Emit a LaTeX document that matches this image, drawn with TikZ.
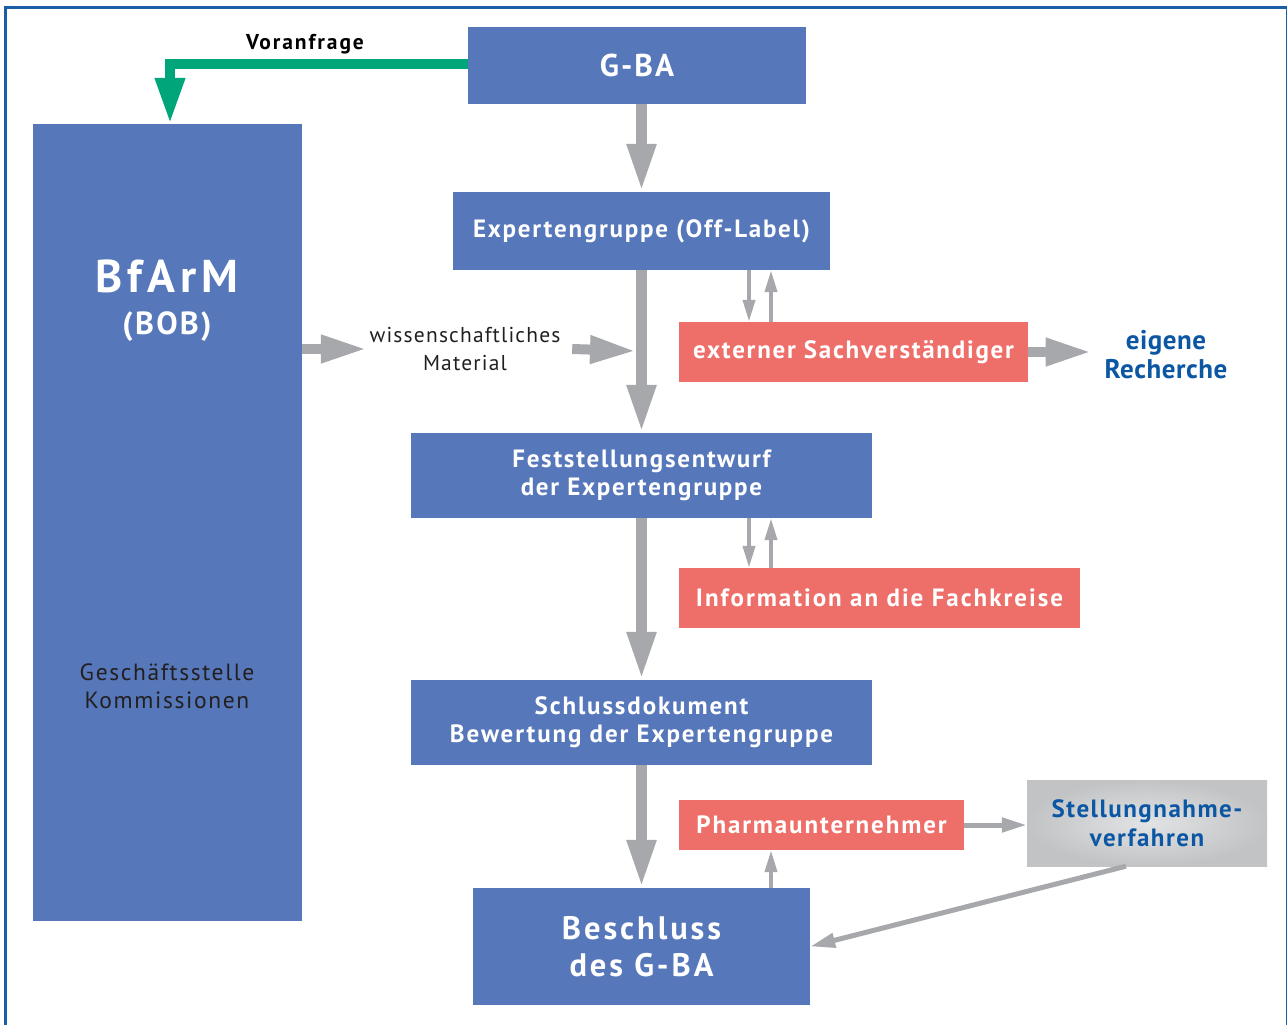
\documentclass[tikz,border=0pt]{standalone}
\usepackage{fontspec}
\setmainfont{PT Sans}
\usetikzlibrary{arrows.meta}
\definecolor{boxblue}{HTML}{5677BA}
\definecolor{boxred}{HTML}{EE6F69}
\definecolor{arrgray}{HTML}{A7A8AC}
\definecolor{vgreen}{HTML}{00A67A}
\definecolor{frameblue}{HTML}{1A5EA8}
\definecolor{txtblue}{HTML}{0B57A3}
\definecolor{txtdark}{HTML}{231F20}
\definecolor{stinner}{HTML}{E2E3E5}
\definecolor{stouter}{HTML}{C2C3C5}
\newcommand{\fsz}[3]{\fontsize{#1}{#2}\selectfont\addfontfeature{LetterSpace=#3}}
\begin{document}
\begin{tikzpicture}[x=1pt,y=-1pt,
  bluebox/.style={fill=boxblue,text=white,inner sep=0pt,align=center,
    font=\fsz{25}{28}{7}\bfseries},
  redbox/.style={fill=boxred,text=white,inner sep=0pt,align=center,
    font=\fsz{25}{28}{7}\bfseries},
  bigarrow/.style={draw=arrgray,line width=11pt,-{Triangle[width=27pt,length=48pt]}},
  midarrow/.style={draw=arrgray,line width=10pt,-{Triangle[width=26pt,length=46pt]}},
  smallarrow/.style={draw=arrgray,line width=4pt,-{Triangle[width=12pt,length=22pt]}},
  thinarrow/.style={draw=arrgray,line width=5pt,-{Triangle[width=14pt,length=25pt]}},
  plaintext/.style={inner sep=0pt,align=center}]
\useasboundingbox (0,0) rectangle (1288,1025);
% frame
\draw[frameblue,line width=3pt] (5.5,1030) -- (5.5,7.5) -- (1286.5,7.5);
\draw[frameblue,line width=1.5pt] (1286.5,7.5) -- (1286.5,1030);
% boxes
\node[bluebox,minimum width=338pt,minimum height=77pt,font=\fsz{31.5}{36}{6.5}\bfseries] (gba) at (637,65.5) {G-BA};
\node[fill=boxblue,inner sep=0pt,minimum width=269pt,minimum height=797pt] (bfarm) at (167.5,522.5) {};
\node[plaintext,text=white,font=\fsz{46}{52}{10.5}\bfseries] (bfarmt) at (167,276) {BfArM};
\node[plaintext,text=white,font=\fsz{32}{34}{7}\bfseries] (bob) at (167,327) {(BOB)};
\node[plaintext,text=txtdark,font=\fsz{23.5}{28}{7}] (gst) at (167,686) {Geschäftsstelle\\Kommissionen};
\node[bluebox,minimum width=377pt,minimum height=78pt] (exp) at (641.5,231) {Expertengruppe (Off-Label)};
\node[redbox,minimum width=349pt,minimum height=60pt] (ext) at (853.5,352) {externer Sachverständiger};
\node[plaintext,inner xsep=13pt,text=txtblue,font=\fsz{27}{29}{2}\bfseries] (eig) at (1166,354.5) {eigene\\Recherche};
\node[plaintext,text=txtdark,font=\fsz{21.5}{28}{5.5},minimum width=205pt] (wiss) at (465,349) {wissenschaftliches\\Material};
\node[bluebox,minimum width=461pt,minimum height=85pt] (fest) at (641.5,475.5) {Feststellungsentwurf\\der Expertengruppe};
\node[redbox,minimum width=401pt,minimum height=60pt,font=\fsz{25}{28}{8}\bfseries] (info) at (879.5,598) {Information an die Fachkreise};
\node[bluebox,minimum width=461pt,minimum height=85pt,font=\fsz{25}{28}{7.5}\bfseries] (schl) at (641.5,722.5) {Schlussdokument\\Bewertung der Expertengruppe};
\node[redbox,minimum width=285pt,minimum height=50pt,font=\fsz{25}{28}{7.5}\bfseries] (pharma) at (821.5,825) {Pharmaunternehmer};
\node[inner sep=0pt,minimum width=240pt,minimum height=86pt,inner color=stinner,outer color=stouter,
  text=txtblue,align=center,font=\fsz{25}{29}{6}\bfseries] (stell) at (1147,823) {Stellungnahme-\\verfahren};
\node[bluebox,minimum width=337pt,minimum height=117pt,font=\fsz{32.5}{37.5}{9}\bfseries] (besch) at (641.5,946.5) {Beschluss\\des G-BA};
\node[plaintext,text=black,font=\fsz{21.5}{24}{9}\bfseries] (vor) at (305,44) {Voranfrage};
\coordinate (mline) at (636,351);
% connectors
\draw[vgreen,line width=10pt,line join=miter,-{Triangle[width=28pt,length=46pt]}]
  (gba.west |- 0,64) -| (bfarm.north -| 170,0);
\draw[bigarrow] (gba.south -| exp.north) -- (exp.north);
\draw[bigarrow] (exp.south) -- (fest.north);
\draw[bigarrow] (fest.south) -- (schl.north);
\draw[bigarrow] (schl.south) -- (besch.north);
\draw[smallarrow] (exp.south -| 749,0) -- (ext.north -| 749,0);
\draw[smallarrow] (ext.north -| 771,0) -- (exp.south -| 771,0);
\draw[smallarrow] (fest.south -| 749,0) -- (info.north -| 749,0);
\draw[smallarrow] (info.north -| 771,0) -- (fest.south -| 771,0);
\draw[smallarrow] (besch.north -| 771,0) -- (pharma.south -| 771,0);
\draw[midarrow] (bfarm.east |- wiss) -- ([xshift=4.5pt]wiss.west);
\draw[midarrow] ([xshift=4.5pt]wiss.east) -- (mline);
\draw[midarrow] (ext.east) -- (ext.east -| eig.west);
\draw[thinarrow] (pharma.east) -- (stell.west |- pharma.east);
\draw[thinarrow] (stell.-116) -- (besch.east);
\end{tikzpicture}
\end{document}
